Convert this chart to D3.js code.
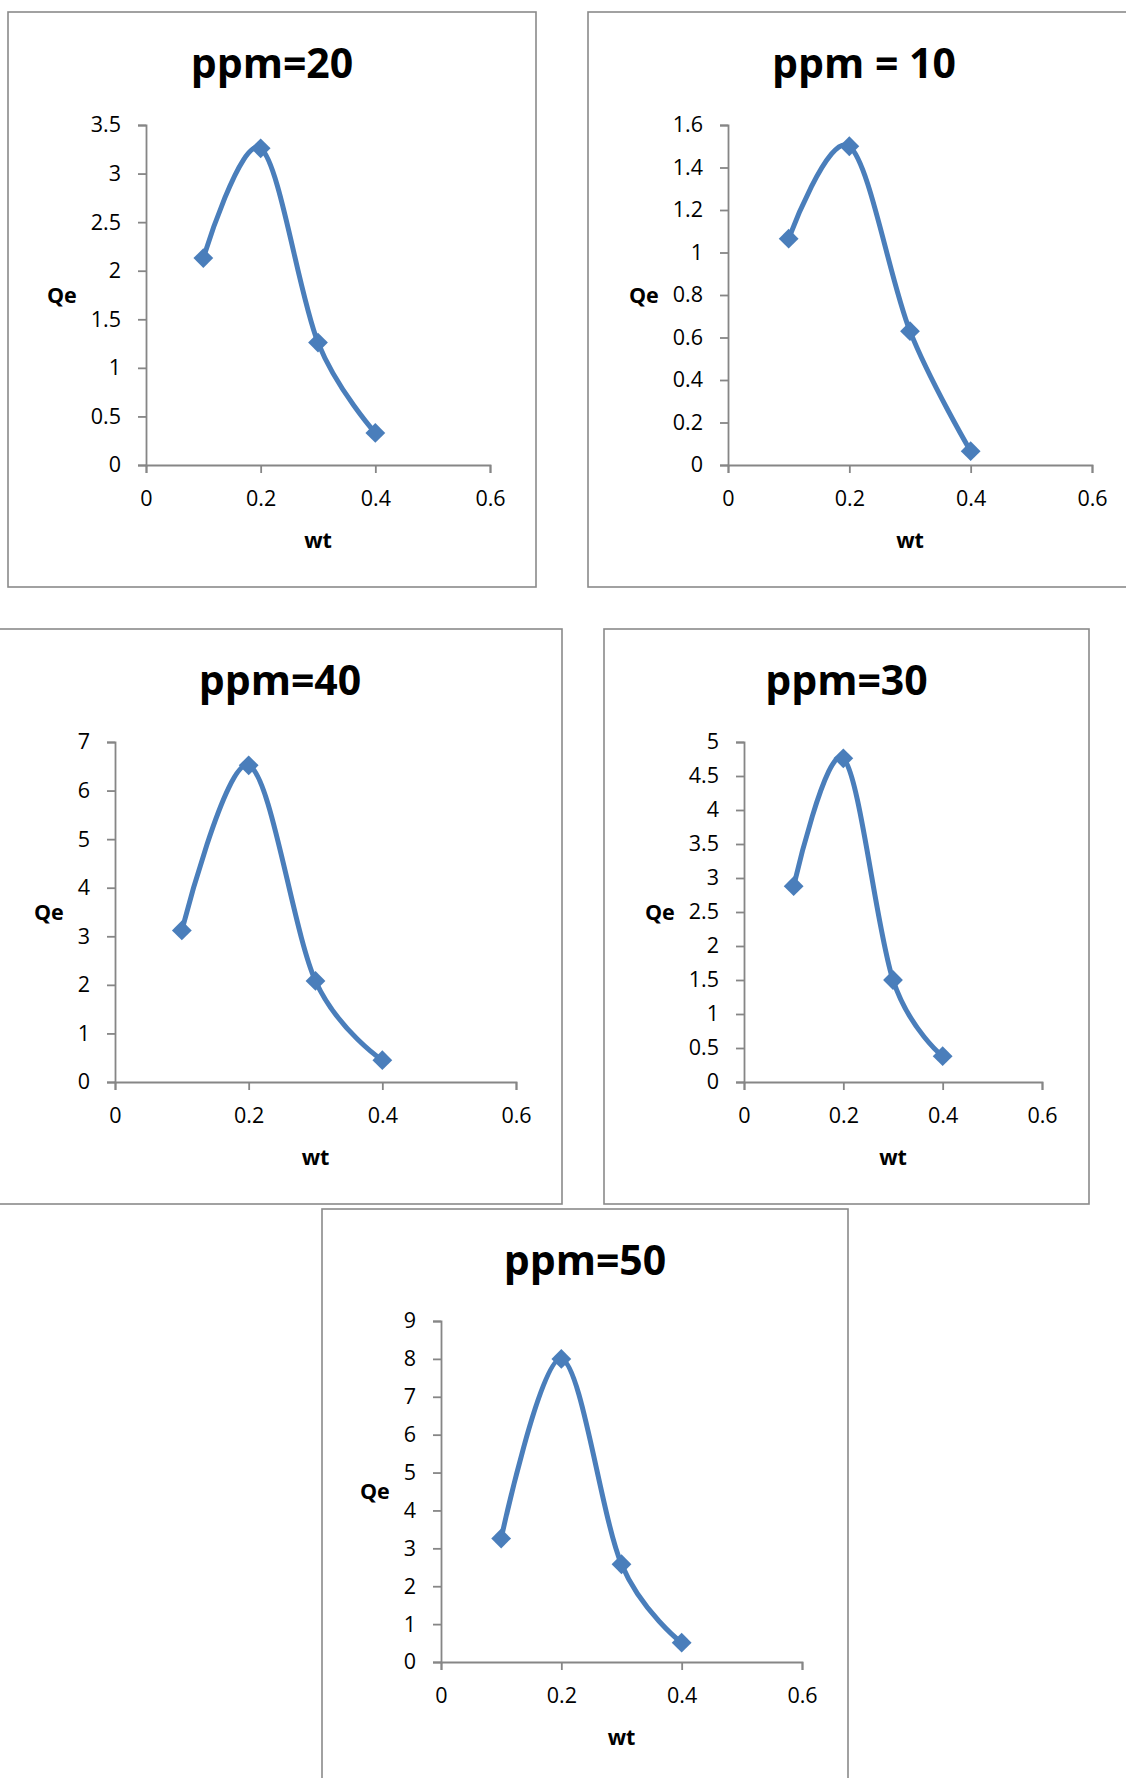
<!DOCTYPE html>
<html>
<head>
<meta charset="utf-8">
<script src="https://cdn.jsdelivr.net/npm/d3@7"></script>
<style>
  html, body { margin: 0; padding: 0; background: #fff; }
  svg { display: block; }
  .tick-label { font-family: "Open Sans", sans-serif; font-size: 21.5px; fill: #000; }
  .title { font-family: "Open Sans", sans-serif; font-weight: 700; font-size: 41px; fill: #000; }
  .axis-title { font-family: "Open Sans", sans-serif; font-weight: 700; font-size: 21.5px; fill: #000; }
</style>
</head>
<body>
<svg id="chart" width="1126" height="1778"></svg>
<script>
// ---- data ----
const wt = [0.1, 0.2, 0.3, 0.4];
const xTicks = [0, 0.2, 0.4, 0.6];
const xTickLabels = ["0", "0.2", "0.4", "0.6"];

const titles = ["ppm=20", "ppm = 10", "ppm=40", "ppm=30", "ppm=50"];

const qe20 = [2.13, 3.26, 1.26, 0.33];
const qe10 = [1.065, 1.50, 0.63, 0.065];
const qe40 = [3.12, 6.52, 2.08, 0.45];
const qe30 = [2.88, 4.76, 1.50, 0.38];
const qe50 = [3.26, 8.00, 2.58, 0.51];

const yTicks20 = [0, 0.5, 1, 1.5, 2, 2.5, 3, 3.5];
const yTicks10 = [0, 0.2, 0.4, 0.6, 0.8, 1, 1.2, 1.4, 1.6];
const yTicks40 = [0, 1, 2, 3, 4, 5, 6, 7];
const yTicks30 = [0, 0.5, 1, 1.5, 2, 2.5, 3, 3.5, 4, 4.5, 5];
const yTicks50 = [0, 1, 2, 3, 4, 5, 6, 7, 8, 9];

const xLabel = "wt";
const yLabel = "Qe";

// ---- layout (positions only) ----
const panels = [
  { title: titles[0], values: qe20, yTicks: yTicks20, frame: [8, 12, 536, 587],   plot: [146, 490, 125, 465] },
  { title: titles[1], values: qe10, yTicks: yTicks10, frame: [588, 12, 1140, 587], plot: [728, 1092, 125, 465] },
  { title: titles[2], values: qe40, yTicks: yTicks40, frame: [-2, 629, 562, 1204], plot: [115, 516, 742, 1082] },
  { title: titles[3], values: qe30, yTicks: yTicks30, frame: [604, 629, 1089, 1204], plot: [744, 1042, 742, 1082] },
  { title: titles[4], values: qe50, yTicks: yTicks50, frame: [322, 1209, 848, 1800], plot: [441, 802, 1321, 1662] }
];

const lineColor = "#4a7ebb";
const axisColor = "#868686";
const frameColor = "#8a8a8a";

const svg = d3.select("#chart");

panels.forEach(p => {
  const g = svg.append("g");
  const [fl, ft, fr, fb] = p.frame;
  const [px0, px1, py0, py1] = p.plot;

  // frame
  g.append("rect")
    .attr("x", fl).attr("y", ft)
    .attr("width", fr - fl).attr("height", fb - ft)
    .attr("fill", "#fff")
    .attr("stroke", frameColor)
    .attr("stroke-width", 1.6);

  // title
  g.append("text")
    .attr("class", "title")
    .attr("x", (fl + fr) / 2)
    .attr("y", ft + 66)
    .attr("text-anchor", "middle")
    .text(p.title);

  const x = d3.scaleLinear().domain([0, 0.6]).range([px0, px1]);
  const yMax = p.yTicks[p.yTicks.length - 1];
  const y = d3.scaleLinear().domain([0, yMax]).range([py1, py0]);

  // y axis
  const yAxis = d3.axisLeft(y)
    .tickValues(p.yTicks)
    .tickFormat(d => String(d))
    .tickSize(8)
    .tickPadding(17);
  const ya = g.append("g").attr("transform", `translate(${px0},0)`).call(yAxis);
  ya.select(".domain").attr("stroke", axisColor).attr("stroke-width", 1.8);
  ya.selectAll(".tick line").attr("stroke", axisColor).attr("stroke-width", 1.8);
  ya.selectAll(".tick text").attr("class", "tick-label").attr("font-family", null).attr("font-size", null).attr("fill", null);

  // x axis
  const xAxis = d3.axisBottom(x)
    .tickValues(xTicks)
    .tickFormat((d, i) => xTickLabels[i])
    .tickSize(8)
    .tickPadding(18);
  const xa = g.append("g").attr("transform", `translate(0,${py1})`).call(xAxis);
  xa.select(".domain").attr("stroke", axisColor).attr("stroke-width", 1.8);
  xa.selectAll(".tick line").attr("stroke", axisColor).attr("stroke-width", 1.8);
  xa.selectAll(".tick text").attr("class", "tick-label").attr("font-family", null).attr("font-size", null).attr("fill", null);

  // y axis title, placed left of the widest tick label
  let minLeft = px0;
  ya.selectAll(".tick text").each(function () {
    const b = this.getBBox();
    minLeft = Math.min(minLeft, px0 + b.x);
  });
  g.append("text")
    .attr("class", "axis-title")
    .attr("x", minLeft - 14)
    .attr("y", (py0 + py1) / 2)
    .attr("dy", "0.35em")
    .attr("text-anchor", "end")
    .text(yLabel);

  // x axis title
  g.append("text")
    .attr("class", "axis-title")
    .attr("x", (px0 + px1) / 2)
    .attr("y", py1 + 75)
    .attr("dy", "0.35em")
    .attr("text-anchor", "middle")
    .text(xLabel);

  const pts = wt.map((w, i) => [w, p.values[i]]);

  // smoothed line
  const line = d3.line()
    .x(d => x(d[0]))
    .y(d => y(d[1]))
    .curve(d3.curveCardinal.tension(0));
  g.append("path")
    .datum(pts)
    .attr("d", line)
    .attr("fill", "none")
    .attr("stroke", lineColor)
    .attr("stroke-width", 5)
    .attr("stroke-linejoin", "round")
    .attr("stroke-linecap", "round");

  // diamond markers
  const sym = d3.symbol().type(d3.symbolSquare).size(196);
  g.selectAll(".marker")
    .data(pts)
    .join("path")
    .attr("class", "marker")
    .attr("d", sym)
    .attr("transform", d => `translate(${x(d[0])},${y(d[1])}) rotate(45)`)
    .attr("fill", lineColor);
});
</script>
</body>
</html>
